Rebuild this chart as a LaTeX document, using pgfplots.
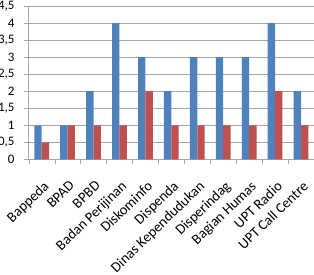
\documentclass[border=0pt]{standalone}
\usepackage{pgfplots}
\pgfplotsset{compat=1.18}
\usepackage{fontspec}
\setmainfont{Carlito}
\definecolor{xlblue}{HTML}{4F81BD}
\definecolor{xlred}{HTML}{C0504D}
\definecolor{xlgrid}{HTML}{A6A6A6}
\begin{document}
\begin{tikzpicture}
\begin{axis}[
  name=ax,
  scale only axis,
  width=285.5bp, height=153.5bp,
  xmin=-0.5, xmax=10.5,
  ymin=0, ymax=4.5,
  ytick={0,0.5,...,4.5},
  /pgf/number format/use comma,
  /pgf/number format/assume math mode=true,
  yticklabel style={font=\fontsize{13}{15}\selectfont, inner sep=0pt, anchor=east, xshift=-9bp},
  xtick={0,...,10},
  xticklabels={Bappeda,BPAD,BPBD,Badan Perijinan,Diskominfo,Dispenda,Dinas Kependudukan,Disperindag,Bagian Humas,UPT Radio,UPT Call Centre},
  xticklabel style={xshift=1bp, yshift=-15.5bp, rotate=44, anchor=north east, font=\fontsize{14.5}{16}\selectfont, inner sep=0pt},
  major x tick style={draw=none},
  minor xtick={-0.5,0.5,...,10.5},
  minor x tick style={xlgrid},
  minor tick length=5bp,
  major tick length=5bp,
  major y tick style={xlgrid},
  tick align=outside,
  xtick pos=bottom,
  ytick pos=left,
  ymajorgrids,
  grid style={xlgrid, line width=0.8pt},
  axis x line*=bottom,
  axis y line*=left,
  axis line style={xlgrid, line width=0.8pt},
  ybar,
  bar width=7.4bp,
  enlarge x limits=false,
  clip=false,
]
\addplot[fill=xlblue, draw=none, bar shift=-3.7bp] coordinates {(0,1) (1,1) (2,2) (3,4) (4,3) (5,2) (6,3) (7,3) (8,3) (9,4) (10,2)};
\addplot[fill=xlred, draw=none, bar shift=3.7bp] coordinates {(0,0.5) (1,1) (2,1) (3,1) (4,2) (5,1) (6,1) (7,1) (8,1) (9,2) (10,1)};
\end{axis}
\pgfresetboundingbox
\path[use as bounding box] ([xshift=-28.7bp,yshift=-115.5bp]ax.south west) rectangle ([yshift=6bp]ax.north east);
\end{tikzpicture}
\end{document}
